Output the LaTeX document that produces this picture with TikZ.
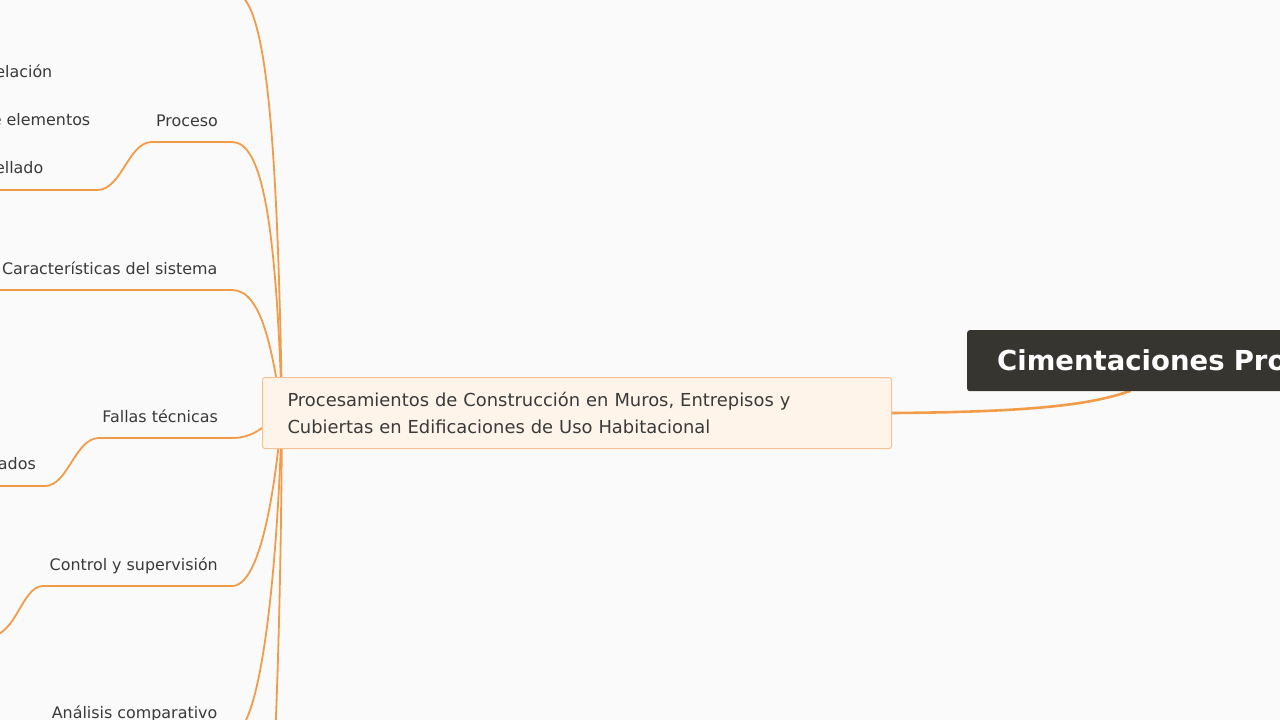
\documentclass[tikz,border=0pt]{standalone}
\usepackage{fontspec}
\setmainfont{DejaVu Sans}
\definecolor{bgc}{HTML}{FAFAFA}
\definecolor{ln}{HTML}{F29B48}
\definecolor{txt}{HTML}{3A3A3A}
\definecolor{boxfill}{HTML}{FFF4EA}
\definecolor{boxline}{HTML}{F4C193}
\definecolor{titlec}{HTML}{37352F}
\pgfdeclarelayer{back}
\pgfdeclarelayer{mid}
\pgfsetlayers{back,mid,main}
\begin{document}
\begin{tikzpicture}[x=1pt,y=-1pt,
  lbl/.style={anchor=base east,inner sep=0pt,font=\fontsize{15.9}{18}\selectfont,text=txt},
  conn/.style={draw=ln,line width=1.8pt,line cap=round},
  mainconn/.style={draw=ln,line width=2.6pt,line cap=round},
  centerbox/.style={draw=boxline,fill=boxfill,line width=1pt,rounded corners=2.5pt,anchor=north west,
    minimum width=629pt,minimum height=71pt,inner xsep=25pt,inner ysep=0pt,text width=579pt,align=left,
    font=\fontsize{17.9}{27}\selectfont,text=txt},
  titlebox/.style={fill=titlec,rounded corners=2.5pt,anchor=north west,minimum height=61pt,
    minimum width=400pt,inner xsep=30pt,inner ysep=0pt,text width=340pt,align=left,
    font=\fontsize{27.5}{32}\bfseries\selectfont,text=white},
]
\useasboundingbox (0,0) rectangle (1280,720);
\clip (0,0) rectangle (1280,720);
\begin{pgfonlayer}{back}
  \fill[bgc] (0,0) rectangle (1280,720);
\end{pgfonlayer}

% nodes
\node[titlebox] (title) at (967,330) {Cimentaciones Pro};
\node[centerbox] (center) at (262,377) {Procesamientos de Construcción en Muros, Entrepisos y\\Cubiertas en Edificaciones de Uso Habitacional};

\node[lbl] (proceso) at (218,126.5) {Proceso};
\node[lbl] (caract) at (217.5,274.5) {Características del sistema};
\node[lbl] (fallas) at (218,422.5) {Fallas técnicas};
\node[lbl] (control) at (218,570.5) {Control y supervisión};
\node[lbl] (analisis) at (217.5,718) {Análisis comparativo};

\node[lbl] (c1) at (52.5,77.5) {elación};
\node[lbl] (c2) at (90.5,125.5) {e elementos};
\node[lbl] (c3) at (43.5,173.5) {ellado};
\node[lbl] (c4) at (36,469.5) {ados};

% coordinates
\coordinate (hub) at (282,412);
\coordinate (tb) at (1130,391);
\coordinate (u0) at (232,-8);
\coordinate (u1) at (232,142);
\coordinate (u2) at (232,290);
\coordinate (u3) at (232,438);
\coordinate (u4) at (232,586);
\coordinate (u5) at (232,734);
\coordinate (u6) at (232,1030);
\coordinate (p1) at (152,142);
\coordinate (p3) at (99,438);
\coordinate (p4) at (43,586);
\coordinate (e1) at (-10,190);
\coordinate (e2) at (-10,290);
\coordinate (e3) at (-10,486);
\coordinate (e4) at (-10,636);
\coordinate (e0) at (150,-8);

\begin{pgfonlayer}{mid}
  \draw[mainconn] (center.east) .. controls (1045,412) and (1095,403) .. (tb);
  \draw[conn] (hub) .. controls (277,90) and (262,-8) .. (u0) -- (e0);
  \draw[conn] (hub) .. controls (276,220) and (262,142) .. (u1) -- (p1);
  \draw[conn] (hub) .. controls (272,350) and (262,290) .. (u2) -- (e2);
  \draw[conn] (hub) .. controls (265,425) and (255,438) .. (u3) -- (p3);
  \draw[conn] (hub) .. controls (276,480) and (262,586) .. (u4) -- (p4);
  \draw[conn] (hub) .. controls (278,560) and (262,734) .. (u5);
  \draw[conn] (hub) .. controls (280,800) and (262,1030) .. (u6);
  \draw[conn] (p1) .. controls (128,142) and (122,190) .. (97,190) -- (e1);
  \draw[conn] (p3) .. controls (75,438) and (68,486) .. (45,486) -- (e3);
  \draw[conn] (p4) .. controls (22,586) and (16,636) .. (e4);
\end{pgfonlayer}
\end{tikzpicture}
\end{document}
